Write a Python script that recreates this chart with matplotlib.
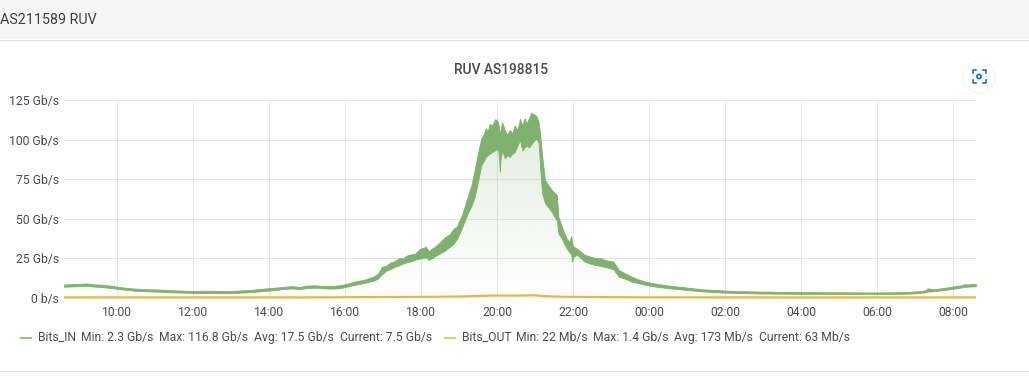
import numpy as np
import matplotlib
matplotlib.use('Agg')
import matplotlib.pyplot as plt
from matplotlib.patches import Circle, Rectangle

plt.rcParams['font.family'] = ['Roboto', 'DejaVu Sans']

# hours since midnight of the first day, with the top and bottom of the noisy band
in_hours = [8.6, 8.8, 9.0, 9.2, 9.4, 9.6, 9.8, 10.0, 10.2, 10.5, 10.8, 11.1, 11.4, 11.7, 12.0,
            12.3, 12.6, 12.9, 13.2, 13.5, 13.8, 14.1, 14.4, 14.6, 14.8, 15.0, 15.2, 15.4, 15.6, 15.87,
            16.1, 16.3, 16.5, 16.74, 16.86, 16.97, 17.08, 17.19, 17.3, 17.42, 17.52, 17.62, 17.73, 17.84, 17.95,
            18.05, 18.12, 18.17, 18.2, 18.25, 18.35, 18.5, 18.62, 18.75, 18.85, 18.94, 19.0, 19.07, 19.15, 19.24,
            19.32, 19.4, 19.5, 19.58, 19.64, 19.7, 19.75, 19.8, 19.87, 19.95, 20.02, 20.05, 20.07, 20.09, 20.13,
            20.2, 20.26, 20.33, 20.4, 20.46, 20.53, 20.6, 20.66, 20.72, 20.78, 20.84, 20.9, 20.96, 21.03, 21.09,
            21.13, 21.18, 21.26, 21.35, 21.44, 21.52, 21.57, 21.61, 21.7, 21.76, 21.83, 21.9, 21.95, 21.97, 21.99,
            22.02, 22.1, 22.2, 22.3, 22.44, 22.58, 22.72, 22.86, 23.06, 23.2, 23.35, 23.54, 23.7, 23.9, 24.2,
            24.5, 24.8, 25.1, 25.4, 25.7, 26.0, 26.4, 26.8, 27.2, 27.6, 28.0, 28.4, 28.8, 29.2, 29.6,
            30.0, 30.4, 30.8, 31.1, 31.28, 31.32, 31.5, 31.7, 31.9, 32.1, 32.2, 32.3, 32.4, 32.5, 32.6]
in_high = [8.2, 8.5, 8.7, 8.9, 8.3, 8.1, 7.6, 6.9, 6.2, 5.6, 5.2, 5.1, 4.6, 4.4, 4.1,
           4.3, 4.2, 4.0, 4.4, 4.8, 5.5, 6.1, 6.8, 7.2, 6.7, 7.6, 7.7, 7.4, 7.2, 7.8,
           9.0, 10.4, 11.2, 13.2, 15.0, 19.5, 20.2, 22.2, 23.0, 25.0, 24.8, 26.6, 27.3, 27.8, 30.5,
           31.5, 32.0, 30.5, 29.0, 30.5, 32.0, 35.0, 38.0, 40.0, 43.5, 45.0, 48.5, 52.0, 58.0, 65.0,
           71.0, 80.0, 92.0, 100.7, 103.0, 107.0, 105.0, 110.0, 109.0, 113.0, 111.0, 107.0, 103.0, 106.0, 111.0,
           106.0, 103.0, 106.0, 104.0, 109.0, 106.0, 113.0, 109.0, 113.5, 110.0, 114.0, 117.0, 116.0, 115.0, 111.0,
           103.0, 90.0, 74.4, 71.0, 68.0, 66.0, 65.0, 51.0, 45.0, 41.0, 37.4, 35.0, 39.0, 34.0, 33.0,
           32.0, 31.0, 29.0, 27.0, 26.0, 25.0, 24.8, 23.6, 22.7, 17.4, 15.5, 13.2, 11.6, 10.0, 8.6,
           7.6, 6.8, 6.0, 5.2, 4.8, 4.4, 4.0, 3.8, 3.7, 3.5, 3.4, 3.4, 3.3, 3.3, 3.2,
           3.2, 3.3, 3.5, 4.0, 4.7, 5.8, 5.2, 5.9, 6.6, 7.4, 7.6, 8.4, 8.2, 8.7, 8.5]
in_low = [6.8, 7.0, 7.2, 7.4, 6.9, 6.6, 6.1, 5.5, 4.9, 4.2, 3.9, 3.7, 3.3, 3.1, 2.9,
          2.9, 2.8, 2.7, 3.0, 3.4, 4.0, 4.6, 5.4, 5.7, 5.3, 6.0, 6.2, 6.0, 5.6, 5.9,
          7.2, 8.2, 9.2, 10.5, 12.0, 14.8, 17.0, 18.0, 19.4, 20.4, 21.5, 22.3, 22.9, 24.0, 24.5,
          25.0, 25.5, 24.5, 23.7, 24.5, 26.0, 28.0, 29.5, 32.0, 34.0, 37.0, 40.0, 44.0, 49.0, 54.0,
          58.0, 63.0, 74.0, 83.8, 86.0, 89.0, 90.0, 91.0, 92.0, 93.3, 94.0, 88.0, 79.6, 88.0, 93.0,
          88.0, 90.0, 89.0, 91.0, 92.0, 96.0, 99.6, 93.0, 95.0, 96.0, 95.0, 97.0, 99.0, 100.7, 98.0,
          82.0, 66.0, 59.6, 57.0, 54.0, 50.5, 49.0, 40.6, 37.4, 34.0, 31.0, 28.5, 27.0, 22.7, 24.5,
          26.0, 27.0, 25.0, 22.7, 21.5, 20.6, 20.0, 19.2, 17.8, 13.2, 12.0, 10.0, 9.2, 8.0, 6.8,
          5.9, 5.2, 4.5, 3.9, 3.4, 3.1, 2.8, 2.6, 2.5, 2.4, 2.3, 2.3, 2.3, 2.3, 2.3,
          2.3, 2.3, 2.4, 2.8, 3.4, 3.7, 4.0, 4.6, 5.2, 5.9, 6.3, 6.7, 6.9, 7.0, 7.2]

out_hours = [8.6, 12.0, 15.0, 16.2, 18.0, 19.0, 19.5, 20.0, 20.5, 21.0, 21.2, 21.6, 22.0, 23.0, 24.0, 28.0, 32.6]
out_values = [0.07, 0.05, 0.06, 0.2, 0.4, 0.6, 1.0, 1.25, 1.2, 1.4, 0.9, 0.55, 0.4, 0.2, 0.1, 0.04, 0.06]

y_ticks = [0, 25, 50, 75, 100, 125]
y_labels = ['0 b/s', '25 Gb/s', '50 Gb/s', '75 Gb/s', '100 Gb/s', '125 Gb/s']
x_ticks = [10, 12, 14, 16, 18, 20, 22, 24, 26, 28, 30, 32]
x_labels = ['10:00', '12:00', '14:00', '16:00', '18:00', '20:00', '22:00',
            '00:00', '02:00', '04:00', '06:00', '08:00']

in_legend = ['Bits_IN', 'Min: 2.3 Gb/s', 'Max: 116.8 Gb/s', 'Avg: 17.5 Gb/s', 'Current: 7.5 Gb/s']
out_legend = ['Bits_OUT', 'Min: 22 Mb/s', 'Max: 1.4 Gb/s', 'Avg: 173 Mb/s', 'Current: 63 Mb/s']

green = '#7eb26d'
yellow = '#eab839'
text_col = '#464c54'
W, H = 1029, 388

fig = plt.figure(figsize=(W / 100, H / 100), dpi=100, facecolor='white')

# page furniture in pixel coordinates
bg = fig.add_axes([0, 0, 1, 1], zorder=0)
bg.set_xlim(0, W)
bg.set_ylim(H, 0)
bg.axis('off')
bg.add_patch(Rectangle((0, 0), W, 39, color='#f5f5f5', lw=0))
bg.plot([0, W], [39.5, 39.5], color='#dcdcdc', lw=0.75)
bg.plot([0, W], [370.5, 370.5], color='#e0e0e0', lw=0.75)
bg.text(0, 19.5, 'AS211589 RUV', fontsize=10.3, color='#3a3f46', va='center', ha='left')
bg.text(500.5, 69.5, 'RUV AS198815', fontsize=9.9, color='#4a4a4a', va='center', ha='center',
        fontweight='medium')

# chart
left, right, top, bottom = 64, 976, 100, 297.5
ax = fig.add_axes([left / W, 1 - bottom / H, (right - left) / W, (bottom - top) / H], zorder=1)
ax.patch.set_alpha(0)
for s in ax.spines.values():
    s.set_visible(False)
ax.set_xticks(x_ticks)
ax.set_xticklabels(x_labels)
ax.set_yticks(y_ticks)
ax.set_yticklabels(y_labels)
ax.tick_params(length=0, labelsize=8.7, labelcolor=text_col)
ax.tick_params(axis='x', pad=6)
ax.tick_params(axis='y', pad=3.5)
ax.grid(True, color='#e6e6e6', lw=0.75)
ax.set_axisbelow(True)

# gradient area under the green band
poly = ax.fill_between(in_hours, in_low, 0, color='none', lw=0)
grad = np.zeros((256, 2, 4))
grad[..., :3] = matplotlib.colors.to_rgb(green)
grad[..., 3] = np.linspace(0.24, 0.0, 256)[:, None]
im = ax.imshow(grad, extent=[8.6, 32.6, 0, 116.8], aspect='auto', origin='upper', zorder=1.5)
im.set_clip_path(poly.get_paths()[0], ax.transData)
ax.set_xlim(8.6, 32.6)
ax.set_ylim(0, 125)

ax.fill_between(in_hours, in_low, in_high, color=green, lw=0.6, zorder=2)
ax.plot(out_hours, out_values, color=yellow, lw=1.6, zorder=3, clip_on=False, solid_capstyle='butt')

# legend
top_ax = fig.add_axes([0, 0, 1, 1], zorder=2)
top_ax.set_xlim(0, W)
top_ax.set_ylim(H, 0)
top_ax.axis('off')
top_ax.plot([21, 31], [338, 338], color='#93c47d', lw=1.5)
top_ax.plot([444.5, 455], [338, 338], color='#f2c55c', lw=1.5)
for x, s in zip([38, 81, 159, 254, 340], in_legend):
    top_ax.text(x, 337, s, fontsize=8.7, color=text_col, va='center', ha='left')
for x, s in zip([462, 516, 593, 674, 759], out_legend):
    top_ax.text(x, 337, s, fontsize=8.7, color=text_col, va='center', ha='left')

# camera button
for r, a in [(17.5, 0.015), (16.5, 0.025)]:
    top_ax.add_patch(Circle((979, 77), r, color='#000000', alpha=a, lw=0))
top_ax.add_patch(Circle((979, 76.5), 15.5, color='white', lw=0))
blue = '#1a6fc4'
for cx, cy, dx, dy in [(972.5, 70, 1, 1), (985.5, 70, -1, 1), (972.5, 83, 1, -1), (985.5, 83, -1, -1)]:
    top_ax.plot([cx + 3 * dx, cx, cx], [cy, cy, cy + 3 * dy], color=blue, lw=1.2)
top_ax.add_patch(Circle((979, 76.5), 2.1, fill=False, ec=blue, lw=1.2))
top_ax.set_xlim(0, W)
top_ax.set_ylim(H, 0)

fig.savefig('out.png', dpi=100)
